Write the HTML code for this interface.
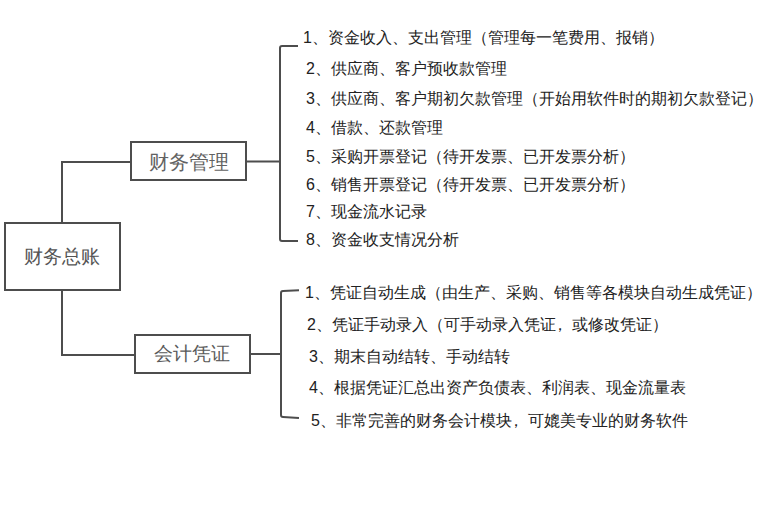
<!DOCTYPE html>
<html>
<head>
<meta charset="utf-8">
<style>
html,body{margin:0;padding:0;background:#fff;}
body{width:761px;height:506px;position:relative;overflow:hidden;font-family:"Liberation Sans",sans-serif;}
.ln{position:absolute;background:#4a4a4a;}
.box{position:absolute;box-sizing:border-box;border:2px solid #4a4a4a;background:#fff;}
.lbl{position:absolute;white-space:nowrap;color:#5a5a5a;line-height:1;}
.t{position:absolute;white-space:nowrap;font-size:16px;line-height:16px;color:#222;}
</style>
</head>
<body>
<svg width="761" height="506" style="position:absolute;left:0;top:0">
<g fill="none" stroke="#4d4d4d" stroke-width="2">
<rect x="5" y="223" width="115" height="67"/>
<path d="M62,222 V162 H131"/>
<rect x="131" y="142" width="115" height="38"/>
<path d="M247,161.6 H280"/>
<path d="M298,46 H282 Q280,46 280,48 V239 Q280,241 282,241 H298"/>
<path d="M62,291 V355 H135"/>
<rect x="135" y="335" width="115" height="38"/>
<path d="M251,354 H281"/>
<path d="M299,290.2 L283,291 Q281,291.1 281,293 V415 Q281,417 283,417 L299,418"/>
</g>
</svg>
<div class="lbl" style="left:24px;top:247px;font-size:19px;color:#545454">财务总账</div>
<div class="lbl" style="left:149px;top:152px;font-size:20px;color:#626262">财务管理</div>
<div class="lbl" style="left:154px;top:344px;font-size:19px;">会计凭证</div>

<!-- upper items -->
<div class="t" style="left:303px;top:30px;">1、资金收入、支出管理（管理每一笔费用、报销）</div>
<div class="t" style="left:306px;top:61px;">2、供应商、客户预收款管理</div>
<div class="t" style="left:306px;top:91px;">3、供应商、客户期初欠款管理（开始用软件时的期初欠款登记）</div>
<div class="t" style="left:306px;top:120px;">4、借款、还款管理</div>
<div class="t" style="left:306px;top:149px;">5、采购开票登记（待开发票、已开发票分析）</div>
<div class="t" style="left:306px;top:177px;">6、销售开票登记（待开发票、已开发票分析）</div>
<div class="t" style="left:306px;top:204px;">7、现金流水记录</div>
<div class="t" style="left:306px;top:232px;">8、资金收支情况分析</div>

<!-- lower items -->
<div class="t" style="left:305px;top:285px;">1、凭证自动生成（由生产、采购、销售等各模块自动生成凭证）</div>
<div class="t" style="left:307px;top:317px;">2、凭证手动录入（可手动录入凭证<span style="position:relative;left:-4px">，</span>或修改凭证）</div>
<div class="t" style="left:309px;top:349px;">3、期末自动结转、手动结转</div>
<div class="t" style="left:309px;top:380px;">4、根据凭证汇总出资产负债表、利润表、现金流量表</div>
<div class="t" style="left:311px;top:413px;">5、非常完善的财务会计模块<span style="position:relative;left:-4px">，</span>可媲美专业的财务软件</div>
</body>
</html>
